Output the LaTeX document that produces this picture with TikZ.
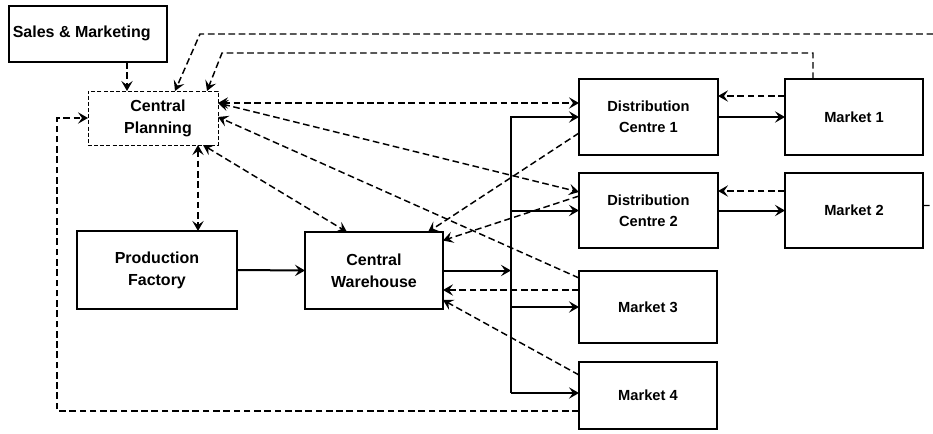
\documentclass[tikz,border=0pt]{standalone}
\usepackage{fontspec}
\setmainfont{Liberation Sans}
\usetikzlibrary{arrows.meta,calc}
\begin{document}
\begin{tikzpicture}[x=0.75pt,y=-0.75pt,
  >={Stealth[length=7.5pt,width=8.5pt,inset=3pt]},
  lbl/.style={font=\fontsize{11}{15.5}\selectfont\bfseries, align=center, inner sep=0pt},
  big/.style={font=\fontsize{12}{16.5}\selectfont\bfseries},
  box/.style={lbl, draw, line width=2pt, outer sep=0pt, fill=white},
  cpbox/.style={draw, line width=0.75pt, dash pattern=on 3pt off 1.6pt, outer sep=0pt, inner sep=0pt},
  flow/.style={line width=1.5pt, ->},
  info/.style={line width=1.1pt, dash pattern=on 5pt off 2.7pt, ->},
  info2/.style={line width=1.1pt, dash pattern=on 5pt off 2.7pt, <->},
]
\useasboundingbox (0,0) rectangle (933,433);

% nodes
\node[box, minimum width=118.5pt, minimum height=42pt] (sm) at (88,34) {};
\node[lbl, big, anchor=west] (smt) at (12.5,33) {Sales \& Marketing};
\node[cpbox, minimum width=97.5pt, minimum height=40.5pt] (cp) at (153,118) {};
\node[lbl, big] (cpt) at (158,118) {Central\\Planning};
\node[box, big, minimum width=120pt, minimum height=58.5pt] (pf) at (157,270) {Production\\Factory};
\node[box, big, minimum width=103.5pt, minimum height=57.75pt] (cw) at (374,270.5) {Central\\Warehouse};
\node[box, minimum width=104.25pt, minimum height=57pt] (dc1) at (648.5,117) {Distribution\\Centre 1};
\node[box, minimum width=104.25pt, minimum height=56.25pt] (dc2) at (648.5,210.5) {Distribution\\Centre 2};
\node[box, minimum width=103.5pt, minimum height=57pt] (m1) at (854,117) {Market 1};
\node[box, minimum width=103.5pt, minimum height=56.25pt] (m2) at (854,210.5) {Market 2};
\node[box, minimum width=103.5pt, minimum height=54pt] (m3) at (648,307) {Market 3};
\node[box, minimum width=103.5pt, minimum height=50.25pt] (m4) at (648,395.5) {Market 4};

\coordinate (bustop) at (511,117);
\coordinate (busbot) at (511,393);
\coordinate (ra) at (945,34);
\coordinate (rb) at (200,34);
\coordinate (rc) at (222,53);

% material flow
\draw[flow] (pf.east) -- (cw.west);
\draw[flow] (cw.east) -- (cw.east -| bustop);
\draw[flow] (busbot) -- (bustop) -- (dc1.west);
\draw[flow] (bustop |- dc2.west) -- (dc2.west);
\draw[flow] (bustop |- m3.west) -- (m3.west);
\draw[flow] (busbot) -- (busbot -| m4.west);
\draw[flow] (dc1.east) -- (m1.west);
\draw[flow] (dc2.east) -- (m2.west);

% information flow
\draw[info] ($(sm.south)+(39,0)$) -- ($(cp.north)+(-26,0)$);
\draw[info] ($(m2.east)+(0,-5)$) -- (ra |- {$(m2.east)+(0,-5)$}) -- (ra) -- (rb) -- ($(cp.north)+(22,0)$);
\draw[info] ($(m1.north)+(-41,0)$) -- ($(m1.north)+(-41,-26)$) -- (rc) -- ($(cp.north)+(54,0)$);
\draw[info] ($(m1.west)+(0,-21)$) -- ($(dc1.east)+(0,-21)$);
\draw[info] ($(m2.west)+(0,-19.5)$) -- ($(dc2.east)+(0,-19.5)$);
\draw[info2] ($(cp.east)+(0,-15)$) -- ($(dc1.west)+(0,-14)$);
\draw[info2] ($(cp.east)+(0,-15)$) -- ($(dc2.west)+(0,-18.5)$);
\draw[info] ($(m3.west)+(0,-29)$) -- ($(cp.east)+(0,-1)$);
\draw[info2] ($(cp.south)+(45,0)$) -- ($(pf.north)+(41,0)$);
\draw[info2] ($(cp.south)+(50,0)$) -- ($(cw.north)+(-27,0)$);
\draw[info] ($(dc1.west)+(0,16)$) -- ($(cw.north)+(54,0)$);
\draw[info] ($(dc2.west)+(0,-14.5)$) -- ($(cw.east)+(0,-30)$);
\draw[info] ($(m3.west)+(0,-17)$) -- ($(cw.east)+(0,19.5)$);
\draw[info] ($(m4.west)+(0,-20.5)$) -- ($(cw.east)+(0,29.5)$);
\draw[info] ($(m4.west)+(0,15.5)$) -| ($(cp.west)+(-31,0)$) -- (cp.west);
\end{tikzpicture}
\end{document}
